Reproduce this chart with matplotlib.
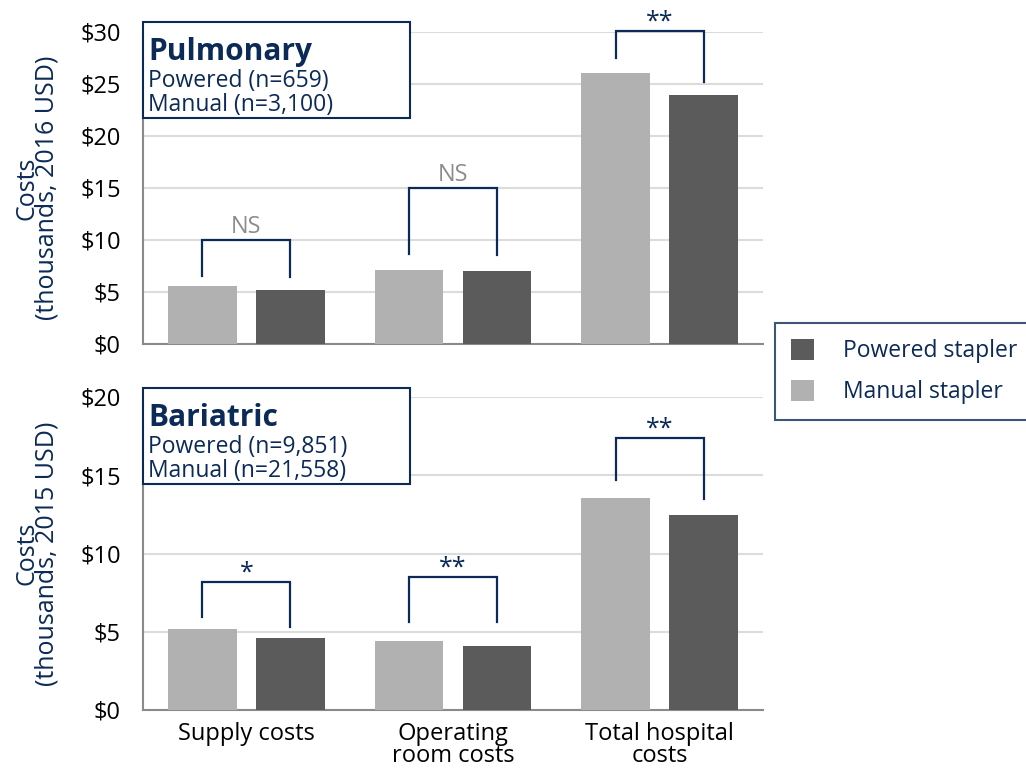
import matplotlib
matplotlib.use("Agg")
import matplotlib.pyplot as plt
import matplotlib.transforms as mtransforms
from matplotlib.patches import Rectangle, Patch

plt.rcParams['font.family'] = ['Open Sans', 'DejaVu Sans']

categories = ["Supply costs", "Operating\nroom costs", "Total hospital\ncosts"]
series_names = ["Manual stapler", "Powered stapler"]

pulm_manual = [5.6, 7.15, 26.1]
pulm_powered = [5.2, 7.05, 23.9]
bari_manual = [5.2, 4.4, 13.55]
bari_powered = [4.6, 4.1, 12.45]

pulm_sig = ["NS", "NS", "**"]
bari_sig = ["*", "**", "**"]
# bracket: (top, left_bottom, right_bottom)
pulm_brackets = [(10.0, 6.5, 6.4), (15.0, 8.65, 8.6), (30.1, 27.5, 25.2)]
bari_brackets = [(8.2, 5.95, 5.3), (8.5, 5.6, 5.6), (17.4, 14.7, 13.5)]

pulm_title = ["Pulmonary", "Powered (n=659)", "Manual (n=3,100)"]
bari_title = ["Bariatric", "Powered (n=9,851)", "Manual (n=21,558)"]

pulm_ylabel = "Costs\n(thousands, 2016 USD)"
bari_ylabel = "Costs\n(thousands, 2015 USD)"

pulm_ticks = [0, 5, 10, 15, 20, 25, 30]
bari_ticks = [0, 5, 10, 15, 20]

MANUAL = "#b0b1b0"
POWERED = "#5a5b5a"
NAVY = "#0b2a57"
GRID = "#dcdcdc"
SPINE = "#8a8a8a"
NSGRAY = "#8c8c8c"

W, H = 1026, 769
fig = plt.figure(figsize=(W / 100, H / 100), dpi=100)


def px_axes(x0, y0, x1, y1):
    return fig.add_axes([x0 / W, 1 - y1 / H, (x1 - x0) / W, (y1 - y0) / H])


def draw_panel(ax, manual, powered, sig, brackets, ticks, ylabel, show_x):
    n = len(categories)
    xs = list(range(n))
    bw = 0.333
    off = 0.213
    ax.bar([x - off for x in xs], manual, width=bw, color=MANUAL, zorder=3)
    ax.bar([x + off for x in xs], powered, width=bw, color=POWERED, zorder=3)
    ax.set_xlim(-0.5, n - 0.5)
    ax.set_ylim(ticks[0], ticks[-1])
    ax.set_yticks(ticks)
    ax.set_yticklabels([f"${t}" for t in ticks], fontsize=17)
    ax.yaxis.grid(True, color=GRID, linewidth=1.5, zorder=0)
    ax.set_axisbelow(True)
    for s in ["top", "right"]:
        ax.spines[s].set_visible(False)
    for s in ["left", "bottom"]:
        ax.spines[s].set_color(SPINE)
        ax.spines[s].set_linewidth(1.5)
    ax.tick_params(axis="y", length=0, pad=16)
    ax.tick_params(axis="x", length=0, pad=9)
    ax.set_xticks(xs)
    if show_x:
        ax.set_xticklabels(categories, fontsize=17, linespacing=0.85)
    else:
        ax.set_xticklabels([])
    trans = mtransforms.blended_transform_factory(fig.transFigure, ax.transAxes)
    ax.text(37 / W, 0.5, ylabel, transform=trans, rotation=90, ha="center",
            va="center", fontsize=18, color=NAVY, linespacing=0.74,
            multialignment="center")
    for i, ((top, lb, rb), s) in enumerate(zip(brackets, sig)):
        xl, xr = i - off, i + off
        ax.plot([xl, xl, xr, xr], [lb, top, top, rb], color=NAVY, lw=1.6,
                clip_on=False, zorder=4, solid_joinstyle="miter")
        if s == "NS":
            ax.annotate(s, (i, top), xytext=(0, 5), textcoords="offset points",
                        ha="center", va="baseline", fontsize=17, color=NSGRAY,
                        annotation_clip=False)
        else:
            ax.annotate(s, (i, top), xytext=(0, 1.5), textcoords="offset points",
                        ha="center", va="baseline", fontsize=18, color=NAVY,
                        annotation_clip=False)


ax1 = px_axes(143, 32, 763, 344)
draw_panel(ax1, pulm_manual, pulm_powered, pulm_sig, pulm_brackets,
           pulm_ticks, pulm_ylabel, False)
ax2 = px_axes(143, 397, 763, 710)
draw_panel(ax2, bari_manual, bari_powered, bari_sig, bari_brackets,
           bari_ticks, bari_ylabel, True)


def title_box(lines, x0, y0, x1, y1):
    fig.patches.append(Rectangle((x0 / W, 1 - y1 / H), (x1 - x0) / W, (y1 - y0) / H,
                                 transform=fig.transFigure, facecolor="white",
                                 edgecolor=NAVY, linewidth=1.5, zorder=10))
    fig.text((x0 + 5) / W, 1 - (y0 + 38) / H, lines[0], fontsize=21.5,
             fontweight="bold", color=NAVY, va="baseline", zorder=11)
    fig.text((x0 + 5) / W, 1 - (y0 + 65) / H, lines[1], fontsize=16.5,
             color=NAVY, va="baseline", zorder=11)
    fig.text((x0 + 5) / W, 1 - (y0 + 89) / H, lines[2], fontsize=16.5,
             color=NAVY, va="baseline", zorder=11)


title_box(pulm_title, 143, 22, 410, 118)
title_box(bari_title, 143, 388, 410, 484)

handles = [Patch(facecolor=POWERED, label=series_names[1]),
           Patch(facecolor=MANUAL, label=series_names[0])]
leg = fig.legend(handles=handles, loc="upper left",
                 bbox_to_anchor=(775 / W, 1 - 323 / H), fontsize=16.5,
                 frameon=True, fancybox=False, edgecolor=NAVY,
                 handlelength=1.0, handleheight=1.0, handletextpad=1.25,
                 borderpad=0.7, labelspacing=0.75, borderaxespad=0)
leg.get_frame().set_linewidth(1.5)
for t in leg.get_texts():
    t.set_color(NAVY)

fig.savefig("out.png", dpi=100)
